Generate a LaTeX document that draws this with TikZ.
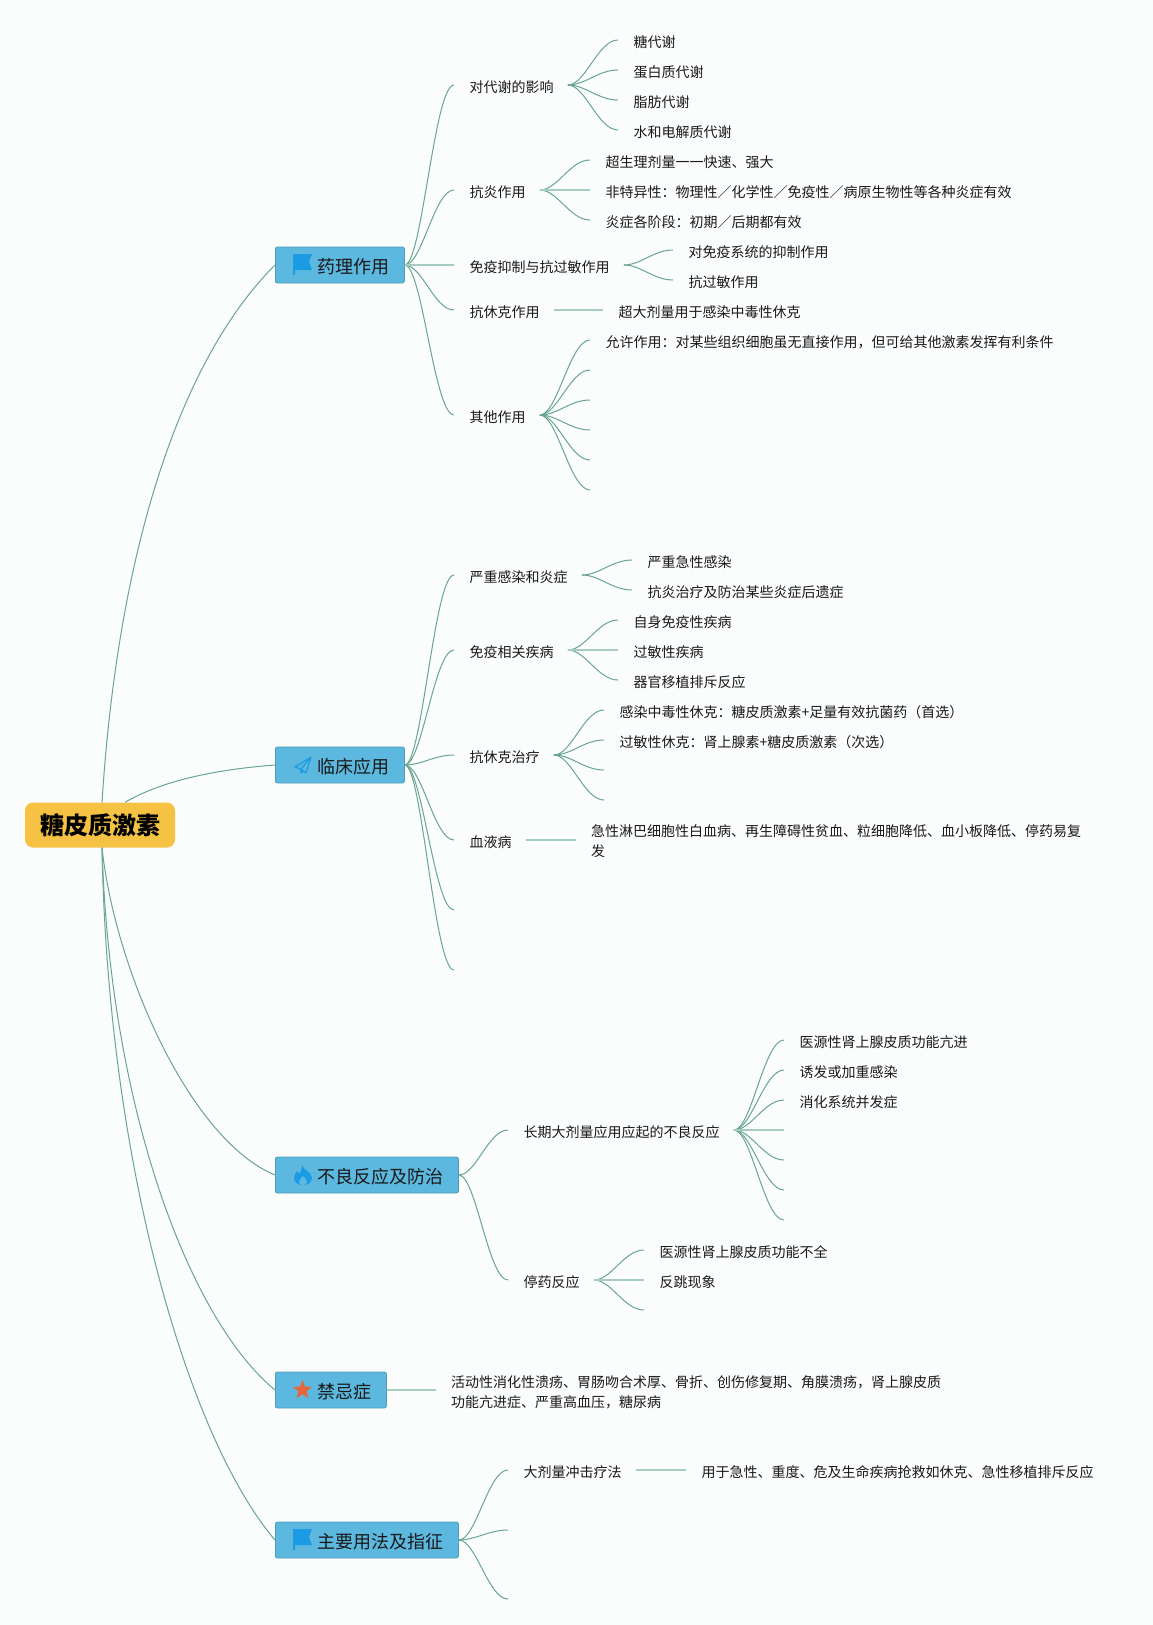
\documentclass[tikz,border=0pt]{standalone}
\usepackage{fontspec}
\setmainfont{Noto Sans CJK SC}
\usetikzlibrary{calc}

\definecolor{pagebg}{HTML}{FBFCFC}
\definecolor{linkgreen}{HTML}{68A594}
\definecolor{stemgreen}{HTML}{A6CBBF}
\definecolor{rootyellow}{HTML}{F6C244}
\definecolor{topicblue}{HTML}{5CB8DE}
\definecolor{topicedge}{HTML}{4F9DB8}
\definecolor{iconblue}{HTML}{1B9BE3}
\definecolor{iconorange}{HTML}{E8663A}

\begin{document}
\begin{tikzpicture}[x=1pt, y=-1pt,
            rootnode/.style={fill=rootyellow, rounded corners=8pt, minimum width=150pt, minimum height=45pt, inner sep=0pt, font=\fontsize{24}{28}\selectfont\bfseries},
            topic/.style={draw=topicedge, line width=0.8pt, fill=topicblue, rounded corners=2pt, anchor=west, minimum height=36pt, inner xsep=15pt, inner ysep=0pt, text height=16.2pt, text depth=0pt, text=black!90, font=\fontsize{18}{22}\selectfont},
            leaf/.style={anchor=west, inner sep=0pt, text height=14.6pt, text depth=0pt, text=black!90, font=\fontsize{14}{20}\selectfont, execute at begin node=\hspace{0.5pt}},
            note/.style={anchor=west, inner sep=0pt, align=left, text=black!90, font=\fontsize{14}{20}\selectfont},
            link/.style={draw=linkgreen, line width=1pt},
            stem/.style={draw=stemgreen, line width=1.6pt},
            branch/.style={to path={let \p1=(\tikztostart), \p2=(\tikztotarget) in
                .. controls (\x1*0.65+\x2*0.35, \y1) and (\x1*0.4+\x2*0.6, \y2) .. (\tikztotarget)}},
            flagicon/.pic={
                \fill[iconblue] (0,-11) -- (19,-11) -- (16,-3) -- (19,5) -- (2,5) -- (2,10) -- (0,10) -- cycle;},
            planeicon/.pic={
                \draw[iconblue, line width=1.2pt, line join=round] (18,-8) -- (2,2) -- (8,4) -- (18,-8) -- (13,8) -- (8,4) -- (8,8) -- (10.5,6);},
            flameicon/.pic={
                \fill[iconblue] (9,-10) .. controls (10,-5) and (19,-3) .. (19,3) .. controls (19,7.5) and (15,10) .. (10,10)
                    .. controls (5,10) and (1,7.5) .. (1,3) .. controls (1,0) and (3,-2) .. (4,-4) .. controls (5,-3) and (6,-2) .. (6.5,-1)
                    .. controls (8,-4) and (9,-7) .. (9,-10);
                \fill[topicblue] (10,1) .. controls (11,3) and (14,4) .. (14,7) .. controls (14,9) and (12,10) .. (10,10)
                    .. controls (8,10) and (6,9) .. (6,7) .. controls (6,4) and (9,3) .. (10,1);},
            staricon/.pic={
                \fill[iconorange, line join=round] (9.5,-10) -- (12,-3.4) -- (19,-3.1) -- (13.5,1.3) -- (15.4,8.1) -- (9.5,4.2)
                    -- (3.6,8.1) -- (5.5,1.3) -- (0,-3.1) -- (7,-3.4) -- cycle;}]

            \useasboundingbox (0,0) rectangle (1153,1625);
            \fill[pagebg] (0,0) rectangle (1153,1625);

            % Root and the five main topics
            \node[rootnode] (root) at (100,825) {糖皮质激素};
            \node[topic] (pharm) at (275,265) {\hspace{27pt}药理作用};
            \node[topic] (clinic) at (275,765) {\hspace{27pt}临床应用};
            \node[topic] (adverse) at (275,1175) {\hspace{27pt}不良反应及防治};
            \node[topic] (contra) at (275,1390) {\hspace{27pt}禁忌症};
            \node[topic] (usage) at (275,1540) {\hspace{27pt}主要用法及指征};

            \pic at (pharm.west) [xshift=18pt] {flagicon};
            \pic at (clinic.west) [xshift=18pt] {planeicon};
            \pic at (adverse.west) [xshift=18pt] {flameicon};
            \pic at (contra.west) [xshift=18pt] {staricon};
            \pic at (usage.west) [xshift=18pt] {flagicon};

            % Root connectors
            \draw[link] ([xshift=2pt]root.north) .. controls (118,550) and (180,360) .. (pharm.west);
            \draw[link] ([xshift=25pt]root.north) .. controls (160,782) and (210,770) .. (clinic.west);
            \draw[link] ([xshift=2pt]root.south) .. controls (115,970) and (190,1140) .. (adverse.west);
            \draw[link] ([xshift=2pt]root.south) .. controls (110,1110) and (190,1320) .. (contra.west);
            \draw[link] ([xshift=2pt]root.south) .. controls (108,1170) and (190,1440) .. (usage.west);

            % Pharmacology
            \node[leaf] (metab) at (469,85) {对代谢的影响};
            \node[leaf] (metab-a) at (633,40) {糖代谢};
            \node[leaf] (metab-b) at (633,70) {蛋白质代谢};
            \node[leaf] (metab-c) at (633,100) {脂肪代谢};
            \node[leaf] (metab-d) at (633,130) {水和电解质代谢};

            \node[leaf] (inflam) at (469,190) {抗炎作用};
            \node[leaf] (inflam-a) at (605,160) {超生理剂量一一快速、强大};
            \node[leaf] (inflam-b) at (605,190) {非特异性：物理性／化学性／免疫性／病原生物性等各种炎症有效};
            \node[leaf] (inflam-c) at (605,220) {炎症各阶段：初期／后期都有效};

            \node[leaf] (immune) at (469,265) {免疫抑制与抗过敏作用};
            \node[leaf] (immune-a) at (688,250) {对免疫系统的抑制作用};
            \node[leaf] (immune-b) at (688,280) {抗过敏作用};

            \node[leaf] (shock) at (469,310) {抗休克作用};
            \node[leaf] (shock-a) at (618,310) {超大剂量用于感染中毒性休克};

            \node[leaf] (other) at (469,415) {其他作用};
            \node[leaf] (other-a) at (605,340) {允许作用：对某些组织细胞虽无直接作用，但可给其他激素发挥有利条件};
            \node[leaf] (other-b) at (605,370) {};
            \node[leaf] (other-c) at (605,400) {};
            \node[leaf] (other-d) at (605,430) {};
            \node[leaf] (other-e) at (605,460) {};
            \node[leaf] (other-f) at (605,490) {};

            \foreach \kid in {metab, inflam, shock, other}
                \draw[link] (pharm.east) to[branch] ([xshift=-15pt]\kid.west);
            \draw[stem] (pharm.east) -- ([xshift=-15pt]immune.west);
            \foreach \kid in {metab-a, metab-b, metab-c, metab-d}
                \draw[link] ([xshift=14pt]metab.east) to[branch] ([xshift=-15pt]\kid.west);
            \foreach \kid in {inflam-a, inflam-c}
                \draw[link] ([xshift=14pt]inflam.east) to[branch] ([xshift=-15pt]\kid.west);
            \draw[stem] ([xshift=14pt]inflam.east) -- ([xshift=-15pt]inflam-b.west);
            \foreach \kid in {immune-a, immune-b}
                \draw[link] ([xshift=14pt]immune.east) to[branch] ([xshift=-15pt]\kid.west);
            \draw[stem] ([xshift=14pt]shock.east) -- ([xshift=-15pt]shock-a.west);
            \foreach \kid in {other-a, other-b, other-c, other-d, other-e, other-f}
                \draw[link] ([xshift=14pt]other.east) to[branch] ([xshift=-15pt]\kid.west);

            % Clinical use
            \node[leaf] (infect) at (469,575) {严重感染和炎症};
            \node[leaf] (infect-a) at (647,560) {严重急性感染};
            \node[leaf] (infect-b) at (647,590) {抗炎治疗及防治某些炎症后遗症};

            \node[leaf] (disease) at (469,650) {免疫相关疾病};
            \node[leaf] (disease-a) at (633,620) {自身免疫性疾病};
            \node[leaf] (disease-b) at (633,650) {过敏性疾病};
            \node[leaf] (disease-c) at (633,680) {器官移植排斥反应};

            \node[leaf] (therapy) at (469,755) {抗休克治疗};
            \node[leaf] (therapy-a) at (619,710) {感染中毒性休克：糖皮质激素+足量有效抗菌药（首选）};
            \node[leaf] (therapy-b) at (619,740) {过敏性休克：肾上腺素+糖皮质激素（次选）};
            \node[leaf] (therapy-c) at (619,770) {};
            \node[leaf] (therapy-d) at (619,800) {};

            \node[leaf] (blood) at (469,840) {血液病};
            \node[note] (blood-a) at (591,841) {急性淋巴细胞性白血病、再生障碍性贫血、粒细胞降低、血小板降低、停药易复\\发};
            \node[leaf] (clinic-e) at (469,910) {};
            \node[leaf] (clinic-f) at (469,970) {};

            \foreach \kid in {infect, disease, therapy, blood, clinic-e, clinic-f}
                \draw[link] (clinic.east) to[branch] ([xshift=-15pt]\kid.west);
            \foreach \kid in {infect-a, infect-b}
                \draw[link] ([xshift=14pt]infect.east) to[branch] ([xshift=-15pt]\kid.west);
            \foreach \kid in {disease-a, disease-c}
                \draw[link] ([xshift=14pt]disease.east) to[branch] ([xshift=-15pt]\kid.west);
            \draw[stem] ([xshift=14pt]disease.east) -- ([xshift=-15pt]disease-b.west);
            \foreach \kid in {therapy-a, therapy-b, therapy-c, therapy-d}
                \draw[link] ([xshift=14pt]therapy.east) to[branch] ([xshift=-15pt]\kid.west);
            \draw[stem] ([xshift=14pt]blood.east) -- ([xshift=-15pt]blood-a.west |- blood.east);

            % Adverse reactions
            \node[leaf] (longterm) at (523,1130) {长期大剂量应用应起的不良反应};
            \node[leaf] (longterm-a) at (799,1040) {医源性肾上腺皮质功能亢进};
            \node[leaf] (longterm-b) at (799,1070) {诱发或加重感染};
            \node[leaf] (longterm-c) at (799,1100) {消化系统并发症};
            \node[leaf] (longterm-d) at (799,1130) {};
            \node[leaf] (longterm-e) at (799,1160) {};
            \node[leaf] (longterm-f) at (799,1190) {};
            \node[leaf] (longterm-g) at (799,1220) {};

            \node[leaf] (withdraw) at (523,1280) {停药反应};
            \node[leaf] (withdraw-a) at (659,1250) {医源性肾上腺皮质功能不全};
            \node[leaf] (withdraw-b) at (659,1280) {反跳现象};
            \node[leaf] (withdraw-c) at (659,1310) {};

            \foreach \kid in {longterm, withdraw}
                \draw[link] (adverse.east) to[branch] ([xshift=-15pt]\kid.west);
            \foreach \kid in {longterm-a, longterm-b, longterm-c, longterm-e, longterm-f, longterm-g}
                \draw[link] ([xshift=14pt]longterm.east) to[branch] ([xshift=-15pt]\kid.west);
            \draw[stem] ([xshift=14pt]longterm.east) -- ([xshift=-15pt]longterm-d.west);
            \foreach \kid in {withdraw-a, withdraw-c}
                \draw[link] ([xshift=14pt]withdraw.east) to[branch] ([xshift=-15pt]\kid.west);
            \draw[stem] ([xshift=14pt]withdraw.east) -- ([xshift=-15pt]withdraw-b.west);

            % Contraindications
            \node[note] (contra-a) at (451,1392) {活动性消化性溃疡、胃肠吻合术厚、骨折、创伤修复期、角膜溃疡，肾上腺皮质\\功能亢进症、严重高血压，糖尿病};
            \draw[stem] (contra.east) -- ([xshift=-15pt]contra-a.west |- contra.east);

            % Main regimens
            \node[leaf] (pulse) at (523,1470) {大剂量冲击疗法};
            \node[leaf] (pulse-a) at (701,1470) {用于急性、重度、危及生命疾病抢救如休克、急性移植排斥反应};
            \node[leaf] (usage-b) at (523,1530) {};
            \node[leaf] (usage-c) at (523,1599) {};

            \foreach \kid in {pulse, usage-b, usage-c}
                \draw[link] (usage.east) to[branch] ([xshift=-15pt]\kid.west);
            \draw[stem] ([xshift=14pt]pulse.east) -- ([xshift=-15pt]pulse-a.west);
\end{tikzpicture}
\end{document}
